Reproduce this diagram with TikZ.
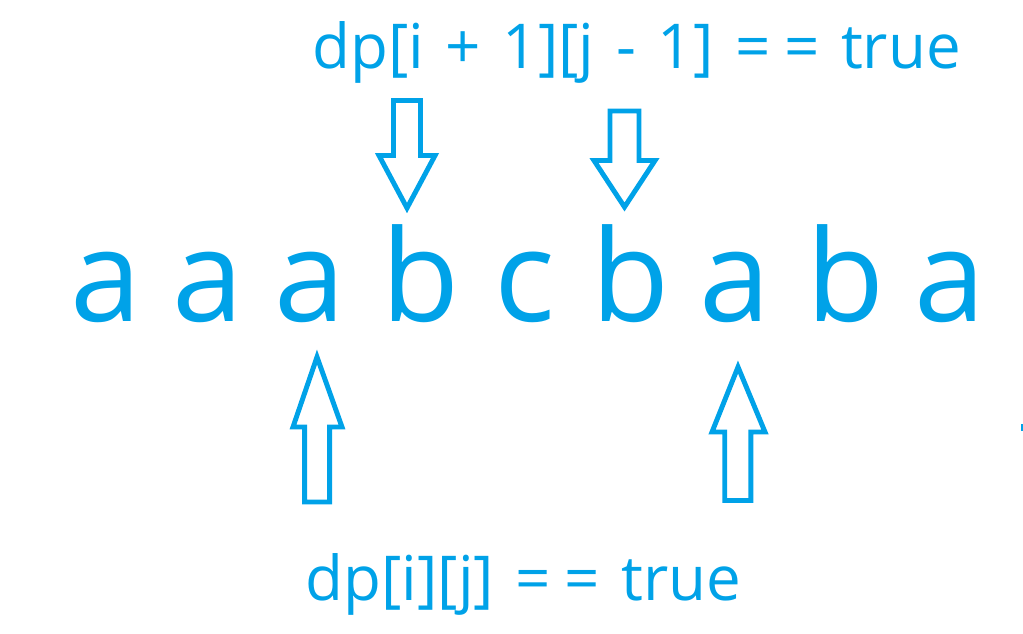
\documentclass[tikz,border=0pt]{standalone}
\usepackage{fontspec}
\setmainfont{Open Sans}
\definecolor{paintblue}{RGB}{0,162,232}
\newcommand{\dbleq}{=\kern0.22em=}
\newcommand{\widetext}[1]{\spaceskip=0.35em\relax #1}
\tikzset{
  hollow/.style={draw=paintblue, line width=2.8pt, line join=miter},
  letter/.style={text=paintblue, anchor=base, inner sep=0pt, font=\fontsize{72.6}{80}\selectfont},
  caption/.style={text=paintblue, anchor=base, inner sep=0pt, font=\fontsize{35.2}{40}\selectfont}
}

\begin{document}
\begin{tikzpicture}[x=0.02cm, y=-0.02cm]
    \useasboundingbox (0,0) rectangle (1023,633);

    \node[caption] (upper) at (636.5,68) {\widetext{dp[i + 1][j - 1] \dbleq{} true}};
    \node[caption] (lower) at (523.5,600) {\widetext{dp[i][j] \dbleq{} true}};

    \node[letter] (a1) at (106,321) {a};
    \node[letter] (a2) at (208,321) {a};
    \node[letter] (a3) at (310,321) {a};
    \node[letter] (b1) at (421,321) {b};
    \node[letter] (c1) at (525,321) {c};
    \node[letter] (b2) at (631,321) {b};
    \node[letter] (a4) at (735,321) {a};
    \node[letter] (b3) at (846,321) {b};
    \node[letter] (a5) at (950,321) {a};

    \draw[hollow] (393.5,100.5) -- (420.5,100.5) -- (420.5,155.5) -- (435,155.5)
        -- (407,208) -- (379,155.5) -- (393.5,155.5) -- cycle;
    \draw[hollow] (610,111) -- (639,111) -- (639,160.5) -- (655,160.5)
        -- (624.5,207) -- (594,160.5) -- (610,160.5) -- cycle;

    \draw[hollow] (304.7,502) -- (329.7,502) -- (329.7,427) -- (342,427)
        -- (317,357) -- (293,427) -- (304.7,427) -- cycle;
    \draw[hollow] (724.7,500.5) -- (750.8,500.5) -- (750.8,432) -- (765,432)
        -- (738,367) -- (712,432) -- (724.7,432) -- cycle;

    \fill[paintblue] (1020.5,424) rectangle (1023,431);
\end{tikzpicture}
\end{document}
